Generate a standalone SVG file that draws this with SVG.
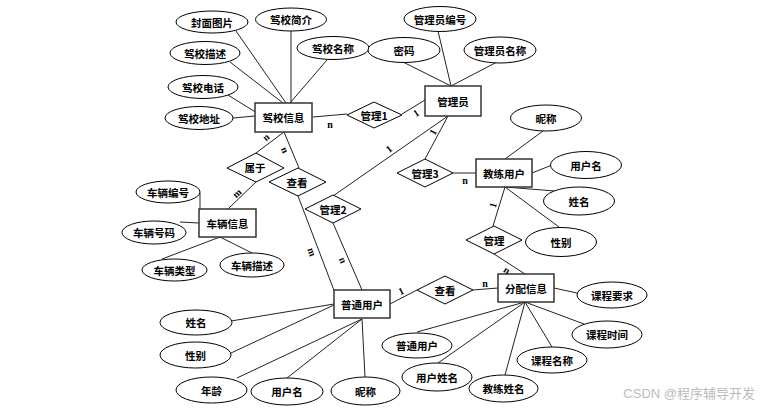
<svg xmlns="http://www.w3.org/2000/svg" width="763" height="409" viewBox="0 0 763 409">
<style>
.e{fill:#fff;stroke:#000;stroke-width:1}
.r{fill:#fff;stroke:#333;stroke-width:1.5}
.d{fill:#fff;stroke:#000;stroke-width:1}
.t{font-family:"Noto Sans CJK SC","Noto Sans",sans-serif;font-size:10.5px;font-weight:bold;fill:#000;text-anchor:middle;dominant-baseline:central}
.c line{stroke:#222;stroke-width:1}
.l{font-family:"Liberation Serif",serif;font-size:10px;font-weight:bold;fill:#000;text-anchor:middle;dominant-baseline:central}
.w{font-family:"Liberation Sans","Noto Sans CJK SC",sans-serif;font-size:13px;fill:#bbb;text-anchor:end}
</style>
<rect width="763" height="409" fill="#fff"/>
<g class="c" id="connectors">
<line x1="236" y1="31" x2="286" y2="103"/>
<line x1="291" y1="31" x2="291" y2="103"/>
<line x1="327" y1="60" x2="290" y2="103"/>
<line x1="230" y1="62" x2="283" y2="103"/>
<line x1="228" y1="95" x2="257" y2="113"/>
<line x1="233" y1="118" x2="255" y2="116"/>
<line x1="313" y1="117" x2="347" y2="114"/>
<line x1="402" y1="114" x2="425" y2="100"/>
<line x1="284" y1="132" x2="256" y2="153"/>
<line x1="284" y1="132" x2="299" y2="168"/>
<line x1="256" y1="182" x2="228" y2="209"/>
<line x1="298" y1="196" x2="335" y2="293"/>
<line x1="333" y1="223" x2="362" y2="290"/>
<line x1="333" y1="196" x2="448" y2="116"/>
<line x1="425" y1="159" x2="448" y2="116"/>
<line x1="453" y1="173" x2="476" y2="173"/>
<line x1="438" y1="31" x2="451" y2="86"/>
<line x1="403" y1="62" x2="451" y2="86"/>
<line x1="497" y1="62" x2="451" y2="86"/>
<line x1="543" y1="131" x2="505" y2="159"/>
<line x1="532" y1="173" x2="552" y2="165"/>
<line x1="505" y1="187" x2="555" y2="191"/>
<line x1="505" y1="187" x2="563" y2="230"/>
<line x1="505" y1="187" x2="493" y2="226"/>
<line x1="494" y1="254" x2="525" y2="274"/>
<line x1="390" y1="304" x2="417" y2="290"/>
<line x1="473" y1="290" x2="498" y2="288"/>
<line x1="200" y1="193" x2="200" y2="210"/>
<line x1="180" y1="222" x2="199" y2="223"/>
<line x1="162" y1="259" x2="220" y2="237"/>
<line x1="252" y1="253" x2="220" y2="237"/>
<line x1="554" y1="288" x2="577" y2="293"/>
<line x1="525" y1="302" x2="584" y2="324"/>
<line x1="525" y1="302" x2="552" y2="347"/>
<line x1="525" y1="302" x2="505" y2="375"/>
<line x1="525" y1="302" x2="438" y2="363"/>
<line x1="525" y1="302" x2="417" y2="332"/>
<line x1="231" y1="321" x2="334" y2="304"/>
<line x1="231" y1="353" x2="334" y2="305"/>
<line x1="237" y1="378" x2="362" y2="319"/>
<line x1="287" y1="378" x2="362" y2="319"/>
<line x1="365" y1="377" x2="362" y2="319"/>
</g>
<g id="n_jxxx"><rect class="r" x="255" y="103" width="57" height="29"/><text class="t" x="283.5" y="117.5">驾校信息</text></g>
<g id="n_gly"><rect class="r" x="425" y="86" width="56" height="30"/><text class="t" x="453" y="101">管理员</text></g>
<g id="n_jlyh"><rect class="r" x="476" y="159" width="56" height="28"/><text class="t" x="504" y="173">教练用户</text></g>
<g id="n_clxx"><rect class="r" x="199" y="209" width="57" height="28"/><text class="t" x="227.5" y="223">车辆信息</text></g>
<g id="n_ptyh"><rect class="r" x="334" y="290" width="56" height="28"/><text class="t" x="362" y="304">普通用户</text></g>
<g id="n_fpxx"><rect class="r" x="498" y="274" width="56" height="28"/><text class="t" x="526" y="288">分配信息</text></g>
<g id="r_gl1"><polygon class="d" points="347,115 374,102 402,115 374,128"/><text class="t" x="374" y="115">管理1</text></g>
<g id="r_sy"><polygon class="d" points="227,168 256,153 284,168 256,182"/><text class="t" x="255" y="167">属于</text></g>
<g id="r_ck1"><polygon class="d" points="269,182 298,168 326,182 298,196"/><text class="t" x="297" y="182">查看</text></g>
<g id="r_gl2"><polygon class="d" points="305,209 333,195 361,209 333,223"/><text class="t" x="333" y="209">管理2</text></g>
<g id="r_gl3"><polygon class="d" points="397,173 425,159 453,173 425,187"/><text class="t" x="425" y="173">管理3</text></g>
<g id="r_gl"><polygon class="d" points="466,240 494,226 522,240 494,254"/><text class="t" x="494" y="240">管理</text></g>
<g id="r_ck2"><polygon class="d" points="417,290 445,276 473,290 445,304"/><text class="t" x="445" y="290">查看</text></g>
<g id="a_fmtp"><ellipse class="e" cx="212" cy="22" rx="36" ry="11"/><text class="t" x="212" y="22">封面图片</text></g>
<g id="a_jxjj"><ellipse class="e" cx="291" cy="19.5" rx="35.5" ry="11.5"/><text class="t" x="291" y="19.5">驾校简介</text></g>
<g id="a_jxmc"><ellipse class="e" cx="333" cy="48" rx="36" ry="11.5"/><text class="t" x="333" y="48">驾校名称</text></g>
<g id="a_jxms"><ellipse class="e" cx="205" cy="53" rx="35" ry="11.5"/><text class="t" x="205" y="53">驾校描述</text></g>
<g id="a_jxdh"><ellipse class="e" cx="203" cy="87" rx="35" ry="11.5"/><text class="t" x="203" y="87">驾校电话</text></g>
<g id="a_jxdz"><ellipse class="e" cx="199" cy="118" rx="34" ry="11.5"/><text class="t" x="199" y="118">驾校地址</text></g>
<g id="a_glybh"><ellipse class="e" cx="440" cy="19" rx="36" ry="12.5"/><text class="t" x="440" y="19">管理员编号</text></g>
<g id="a_mm"><ellipse class="e" cx="404" cy="50" rx="36" ry="12.5"/><text class="t" x="404" y="50">密码</text></g>
<g id="a_glymc"><ellipse class="e" cx="500" cy="50" rx="36" ry="13"/><text class="t" x="500" y="50">管理员名称</text></g>
<g id="a_jlnc"><ellipse class="e" cx="546" cy="118" rx="35.5" ry="13"/><text class="t" x="546" y="118">昵称</text></g>
<g id="a_jlyhm"><ellipse class="e" cx="586" cy="165" rx="35.5" ry="13.5"/><text class="t" x="586" y="165">用户名</text></g>
<g id="a_jlxm"><ellipse class="e" cx="579" cy="201" rx="35.5" ry="14"/><text class="t" x="579" y="201">姓名</text></g>
<g id="a_jlxb"><ellipse class="e" cx="561" cy="242" rx="35.5" ry="14.5"/><text class="t" x="561" y="242">性别</text></g>
<g id="a_clbh"><ellipse class="e" cx="168" cy="192" rx="32" ry="11"/><text class="t" x="168" y="192">车辆编号</text></g>
<g id="a_clhm"><ellipse class="e" cx="154" cy="232.5" rx="32" ry="11.5"/><text class="t" x="154" y="232.5">车辆号码</text></g>
<g id="a_cllx"><ellipse class="e" cx="174.5" cy="270" rx="32.5" ry="11"/><text class="t" x="174.5" y="270">车辆类型</text></g>
<g id="a_clms"><ellipse class="e" cx="252" cy="265" rx="32" ry="12"/><text class="t" x="252" y="265">车辆描述</text></g>
<g id="a_kcyq"><ellipse class="e" cx="612" cy="295" rx="35" ry="13"/><text class="t" x="612" y="295">课程要求</text></g>
<g id="a_kcsj"><ellipse class="e" cx="607" cy="334.5" rx="35" ry="13.5"/><text class="t" x="607" y="334.5">课程时间</text></g>
<g id="a_kcmc"><ellipse class="e" cx="552" cy="360" rx="35" ry="13"/><text class="t" x="552" y="360">课程名称</text></g>
<g id="a_jlxm2"><ellipse class="e" cx="503.5" cy="388.5" rx="34.5" ry="13.5"/><text class="t" x="503.5" y="388.5">教练姓名</text></g>
<g id="a_yhxm"><ellipse class="e" cx="437" cy="377" rx="35" ry="14"/><text class="t" x="437" y="377">用户姓名</text></g>
<g id="a_ptyh"><ellipse class="e" cx="417" cy="345.5" rx="35" ry="12.5"/><text class="t" x="417" y="345.5">普通用户</text></g>
<g id="a_xm"><ellipse class="e" cx="196" cy="322.5" rx="36" ry="12.5"/><text class="t" x="196" y="322.5">姓名</text></g>
<g id="a_xb"><ellipse class="e" cx="195.5" cy="355" rx="35.5" ry="13"/><text class="t" x="195.5" y="355">性别</text></g>
<g id="a_nl"><ellipse class="e" cx="211.5" cy="390" rx="35.5" ry="13"/><text class="t" x="211.5" y="390">年龄</text></g>
<g id="a_yhm"><ellipse class="e" cx="287" cy="391.5" rx="36" ry="13.5"/><text class="t" x="287" y="391.5">用户名</text></g>
<g id="a_nc"><ellipse class="e" cx="365.5" cy="391" rx="34.5" ry="14"/><text class="t" x="365.5" y="391">昵称</text></g>
<g id="labels">
<text class="l" x="330" y="124">n</text>
<text class="l" transform="translate(416,113) rotate(-32)">1</text>
<text class="l" transform="translate(266,137) rotate(-40)">n</text>
<text class="l" transform="translate(285,150) rotate(67)">n</text>
<text class="l" transform="translate(237,193) rotate(-43)">m</text>
<text class="l" transform="translate(312,252) rotate(70)">m</text>
<text class="l" transform="translate(343,260) rotate(66)">n</text>
<text class="l" transform="translate(389,149) rotate(-36)">1</text>
<text class="l" transform="translate(433,132) rotate(-60)">1</text>
<text class="l" x="465" y="180">n</text>
<text class="l" transform="translate(493,205) rotate(-73)">1</text>
<text class="l" transform="translate(507,270) rotate(32)">n</text>
<text class="l" transform="translate(401,291) rotate(-25)">1</text>
<text class="l" x="485" y="283">n</text>
</g>
<text class="w" x="755" y="398">CSDN @程序辅导开发</text>
</svg>
